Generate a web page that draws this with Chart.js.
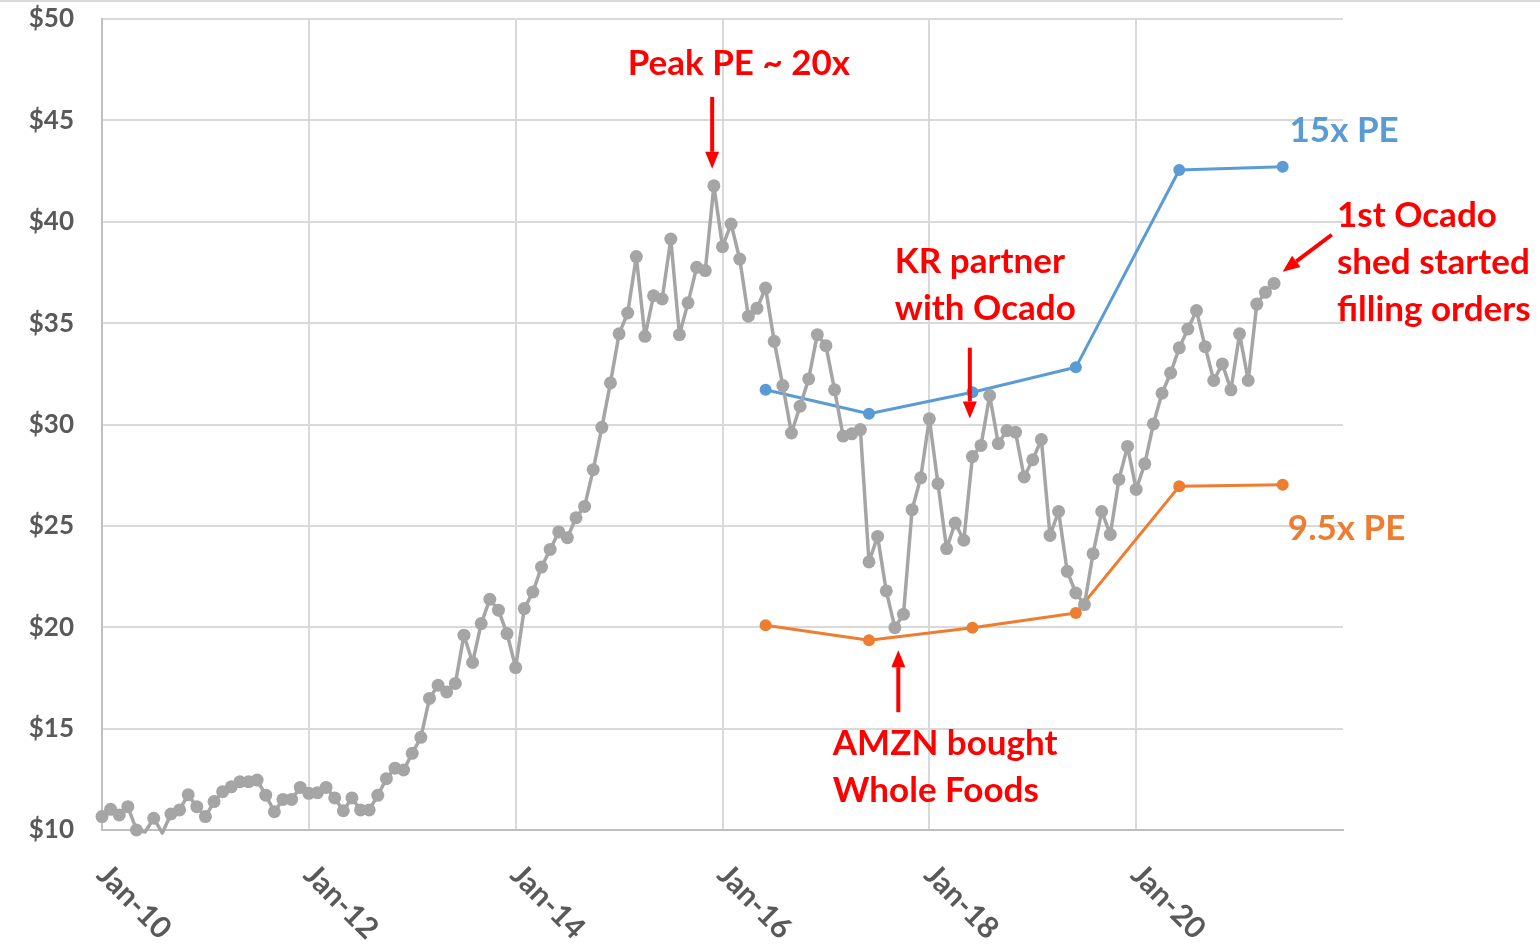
<!DOCTYPE html>
<html>
<head>
<meta charset="utf-8">
<title>KR share price vs PE bands</title>
<script src="https://cdn.jsdelivr.net/npm/chart.js@4.4.1/dist/chart.umd.min.js"></script>
<style>
  body { margin: 0; background: #fff; }
  canvas { display: block; }
</style>
</head>
<body>
<canvas id="chart" width="1540" height="945"></canvas>
<script>
"use strict";

// monthly closes, Jan-10 .. May-21 (values under $10 sit below the axis)
const priceStart = 'Jan-10';
const prices = [
  10.66, 11.02, 10.74, 11.15, 10.00, 9.90, 10.58, 9.85, 10.79, 10.99, 11.74, 11.15,
  10.66, 11.40, 11.89, 12.13, 12.38, 12.38, 12.46, 11.72, 10.90, 11.51, 11.51, 12.10,
  11.81, 11.84, 12.10, 11.58, 10.95, 11.58, 10.99, 10.99, 11.71, 12.53, 13.05, 12.96,
  13.78, 14.57, 16.49, 17.14, 16.81, 17.23, 19.61, 18.26, 20.18, 21.38, 20.84, 19.69,
  18.01, 20.92, 21.74, 22.97, 23.84, 24.70, 24.42, 25.40, 25.96, 27.77, 29.86, 32.05,
  34.47, 35.50, 38.28, 34.35, 36.35, 36.19, 39.15, 34.43, 36.00, 37.75, 37.59, 41.77,
  38.77, 39.89, 38.16, 35.34, 35.73, 36.73, 34.10, 31.92, 29.58, 30.90, 32.25, 34.43,
  33.89, 31.71, 29.43, 29.54, 29.75, 23.22, 24.48, 21.79, 19.98, 20.64, 25.80, 27.37,
  30.28, 27.08, 23.88, 25.14, 24.29, 28.42, 28.97, 31.43, 29.06, 29.70, 29.62, 27.41,
  28.26, 29.26, 24.53, 25.71, 22.76, 21.69, 21.12, 23.63, 25.71, 24.58, 27.29, 28.92,
  26.80, 28.06, 30.03, 31.54, 32.54, 33.78, 34.71, 35.62, 33.84, 32.17, 32.99, 31.71,
  34.47, 32.17, 35.94, 36.52, 36.96
];

// PE band dates and values
const peDates = ['Jun-16', 'Jun-17', 'Jun-18', 'Jun-19', 'Jun-20', 'Jun-21'];
const pe15 = [31.71, 30.53, 31.59, 32.82, 42.55, 42.71];
const pe95 = [20.10, 19.36, 19.98, 20.70, 26.95, 27.03];

const xTickLabels = ['Jan-10', 'Jan-12', 'Jan-14', 'Jan-16', 'Jan-18', 'Jan-20'];
const yTicks = [10, 15, 20, 25, 30, 35, 40, 45, 50];

const MONTHS = ['Jan','Feb','Mar','Apr','May','Jun','Jul','Aug','Sep','Oct','Nov','Dec'];
// months since Jan-10
function monthIndex(label) {
  const [m, y] = label.split('-');
  return (2000 + Number(y) - 2010) * 12 + MONTHS.indexOf(m);
}

const start = monthIndex(priceStart);
const grayData = prices.map((v, i) => ({ x: start + i, y: v }));
const blueData = peDates.map((d, i) => ({ x: monthIndex(d), y: pe15[i] }));
const orangeData = peDates.map((d, i) => ({ x: monthIndex(d), y: pe95[i] }));

const FONT = 'Lato, "Open Sans", sans-serif';
const RED = '#FF0000';

// annotations placed in data space (month index, price)
const notes = [
  { lines: ['Peak PE ~ 20x'], x: 73.9, y: 47.24, align: 'center', color: RED },
  { lines: ['KR partner', 'with Ocado'], x: 92.0, y: 37.49, align: 'left', color: RED },
  { lines: ['AMZN bought', 'Whole Foods'], x: 84.8, y: 13.69, align: 'left', color: RED },
  { lines: ['1st Ocado', 'shed started', 'filling orders'], x: 143.3, y: 39.75, align: 'left', color: RED },
  { lines: ['15x PE'], x: 137.8, y: 43.94, align: 'left', color: '#5B9BD5' },
  { lines: ['9.5x PE'], x: 137.6, y: 24.29, align: 'left', color: '#ED7D31' }
];
const arrows = [
  { from: [70.8, 46.16], to: [70.8, 42.61] },
  { from: [100.7, 33.79], to: [100.7, 30.30] },
  { from: [92.4, 15.81], to: [92.4, 18.87] },
  { from: [142.7, 39.36], to: [137.0, 37.54] }
];

function drawArrow(ctx, x1, y1, x2, y2) {
  const ang = Math.atan2(y2 - y1, x2 - x1);
  const head = 17, half = 7;
  ctx.save();
  ctx.strokeStyle = RED;
  ctx.fillStyle = RED;
  ctx.lineWidth = 4;
  ctx.beginPath();
  ctx.moveTo(x1, y1);
  ctx.lineTo(x2 - head * Math.cos(ang), y2 - head * Math.sin(ang));
  ctx.stroke();
  ctx.translate(x2, y2);
  ctx.rotate(ang);
  ctx.beginPath();
  ctx.moveTo(0, 0);
  ctx.lineTo(-head, -half);
  ctx.lineTo(-head, half);
  ctx.closePath();
  ctx.fill();
  ctx.restore();
}

const overlay = {
  id: 'overlay',
  beforeDraw(chart) {
    const ctx = chart.ctx;
    // faint chart border at the top edge
    ctx.save();
    ctx.strokeStyle = '#D9D9D9';
    ctx.lineWidth = 2;
    ctx.beginPath();
    ctx.moveTo(0, 1);
    ctx.lineTo(chart.width, 1);
    ctx.stroke();
    ctx.restore();
  },
  afterDraw(chart) {
    const ctx = chart.ctx;
    const xs = chart.scales.x, ys = chart.scales.y;
    const area = chart.chartArea;

    // slanted date labels
    ctx.save();
    ctx.fillStyle = '#595959';
    ctx.font = 'bold 30px ' + FONT;
    ctx.textAlign = 'left';
    ctx.textBaseline = 'middle';
    xTickLabels.forEach((lab, i) => {
      ctx.save();
      ctx.translate(xs.getPixelForValue(i * 24), area.bottom + 40);
      ctx.rotate(Math.PI / 4);
      ctx.fillText(lab, 0, 0);
      ctx.restore();
    });
    ctx.restore();

    // text notes
    ctx.save();
    ctx.font = 'bold 35px ' + FONT;
    ctx.textBaseline = 'alphabetic';
    notes.forEach(n => {
      ctx.fillStyle = n.color;
      ctx.textAlign = n.align;
      const px = xs.getPixelForValue(n.x);
      const py = ys.getPixelForValue(n.y);
      n.lines.forEach((t, k) => ctx.fillText(t, px, py + k * 47));
    });
    ctx.restore();

    arrows.forEach(a => {
      drawArrow(ctx,
        xs.getPixelForValue(a.from[0]), ys.getPixelForValue(a.from[1]),
        xs.getPixelForValue(a.to[0]), ys.getPixelForValue(a.to[1]));
    });
  }
};

new Chart(document.getElementById('chart'), {
  type: 'line',
  data: {
    datasets: [
      {
        label: 'KR',
        data: grayData,
        borderColor: '#A5A5A5',
        backgroundColor: '#A5A5A5',
        borderWidth: 3.5,
        borderJoinStyle: 'round',
        pointRadius: c => (c.raw && c.raw.y < 10 ? 0 : 6.5),
        pointBorderWidth: 0,
        clip: false
      },
      {
        label: '15x PE',
        data: blueData,
        borderColor: '#5B9BD5',
        backgroundColor: '#5B9BD5',
        borderWidth: 3,
        borderJoinStyle: 'round',
        pointRadius: 6,
        pointBorderWidth: 0
      },
      {
        label: '9.5x PE',
        data: orangeData,
        borderColor: '#ED7D31',
        backgroundColor: '#ED7D31',
        borderWidth: 3,
        borderJoinStyle: 'round',
        pointRadius: 6,
        pointBorderWidth: 0
      }
    ]
  },
  plugins: [overlay],
  options: {
    responsive: false,
    animation: false,
    events: [],
    layout: { padding: { left: 0, right: 197, top: 19, bottom: 115 } },
    plugins: { legend: { display: false }, tooltip: { enabled: false } },
    scales: {
      x: {
        type: 'linear',
        min: 0,
        max: 144,
        ticks: { display: false, stepSize: 24 },
        grid: {
          drawTicks: false,
          lineWidth: 2,
          color: c => (c.tick && c.tick.value >= 144 ? 'rgba(0,0,0,0)' : '#D9D9D9')
        },
        border: { color: '#BFBFBF', width: 2 }
      },
      y: {
        min: 10,
        max: 50,
        afterFit(scale) {
          scale.width = 102;
          scale.paddingTop = 0;
          scale.paddingBottom = 0;
        },
        afterBuildTicks(scale) { scale.ticks = yTicks.map(v => ({ value: v })); },
        ticks: {
          padding: 28,
          color: '#595959',
          font: { family: FONT, size: 26, weight: 'bold' },
          callback: v => '$' + v
        },
        grid: { drawTicks: false, lineWidth: 2, color: '#D9D9D9' },
        border: { color: '#BFBFBF', width: 2 }
      }
    }
  }
});
</script>
</body>
</html>
